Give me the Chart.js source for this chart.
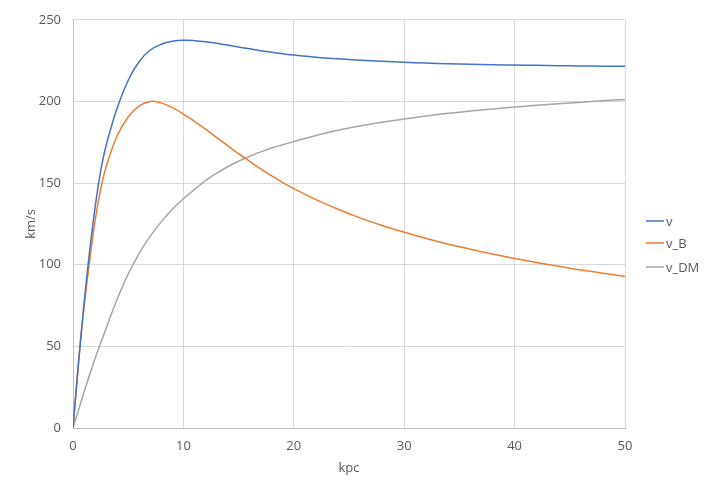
<!DOCTYPE html>
<html>
<head>
<meta charset="utf-8">
<script src="https://cdn.jsdelivr.net/npm/chart.js@4.4.1/dist/chart.umd.min.js"></script>
<style>
  html, body { margin: 0; padding: 0; background: #ffffff; }
  #wrap { width: 727px; height: 487px; }
</style>
</head>
<body>
<div id="wrap"><canvas id="chart"></canvas></div>
<script>
// radius in kpc
const radius = [0, 0.5, 1, 1.5, 2, 2.5, 3, 4, 5, 6, 7, 8, 9, 10, 11, 12, 13, 14, 15, 16, 17, 18, 19, 20,
    22, 24, 26, 28, 30, 32, 34, 36, 38, 40, 42, 44, 46, 48, 50];
// rotation speeds, km/s
const vTotal = [0, 40, 76, 108, 135, 157, 173, 196, 213, 224.5, 231.5, 235, 236.8, 237.4, 237.2, 236.6, 235.6, 234.5, 233.3, 232.2, 231.1, 230.1, 229.2, 228.4,
    227.1, 226.1, 225.3, 224.6, 224, 223.5, 223.1, 222.8, 222.5, 222.3, 222.1, 221.9, 221.7, 221.6, 221.5];
const vBaryon = [0, 40, 74, 102, 127, 146, 160, 179, 190.5, 197.3, 200, 199, 196.2, 192.3, 187.8, 183, 178, 173, 168, 163.3, 158.7, 154.4, 150.3, 146.6,
    139.9, 134, 128.7, 124, 119.9, 116.1, 112.6, 109.5, 106.5, 103.8, 101.3, 99, 96.8, 94.8, 92.8];
const vDark = [0, 11, 22, 32.5, 42.5, 52, 61, 78.8, 94.3, 107, 117.5, 126.4, 134, 140.4, 146, 151.5, 156, 160, 163.4, 166.4, 169.1, 171.5, 173.5, 175.4,
    179.2, 182.4, 185, 187.3, 189.3, 191.1, 192.7, 194.1, 195.4, 196.6, 197.6, 198.6, 199.5, 200.4, 201.2];

const seriesNames = ['v', 'v_B', 'v_DM'];
const seriesColors = ['#4472C4', '#ED7D31', '#A5A5A5'];

const textColor = '#595959';
const fontFamily = "'Open Sans', 'Liberation Sans', sans-serif";

function toPoints(values) {
    return radius.map((r, i) => ({ x: r, y: values[i] }));
}

// simple legend at the right, like the spreadsheet one
const sideLegend = {
    id: 'sideLegend',
    afterDraw(chart) {
        const ctx = chart.ctx;
        ctx.save();
        ctx.font = '13px ' + fontFamily;
        ctx.textBaseline = 'middle';
        ctx.textAlign = 'left';
        const ys = [221, 243, 267];
        chart.data.datasets.forEach((ds, i) => {
            ctx.strokeStyle = ds.borderColor;
            ctx.lineWidth = 1.5;
            ctx.beginPath();
            ctx.moveTo(646, ys[i]);
            ctx.lineTo(664, ys[i]);
            ctx.stroke();
            ctx.fillStyle = textColor;
            ctx.fillText(ds.label, 666, ys[i] + 1);
        });
        ctx.restore();
    }
};

const datasets = [vTotal, vBaryon, vDark].map((values, i) => ({
    label: seriesNames[i],
    data: toPoints(values),
    borderColor: seriesColors[i],
    backgroundColor: seriesColors[i],
    borderWidth: 1.5,
    pointRadius: 0,
    tension: 0.4,
    fill: false
}));

new Chart(document.getElementById('chart').getContext('2d'), {
    type: 'line',
    data: { datasets: datasets },
    options: {
        responsive: true,
        maintainAspectRatio: false,
        animation: false,
        layout: { padding: { top: 14, right: 102, bottom: 0, left: 0 } },
        plugins: {
            legend: { display: false },
            tooltip: { enabled: false }
        },
        scales: {
            x: {
                type: 'linear',
                min: 0,
                max: 50,
                ticks: { stepSize: 10, color: textColor, font: { family: fontFamily, size: 13 }, padding: 10, maxRotation: 0 },
                grid: { color: '#d9d9d9', drawTicks: false },
                border: { color: '#bfbfbf', width: 1 },
                title: { display: true, text: 'kpc', color: textColor, font: { family: fontFamily, size: 13 }, padding: { top: 0, bottom: 11 } },
                afterFit(scale) { scale.height = 59; }
            },
            y: {
                min: 0,
                max: 250,
                ticks: { stepSize: 50, color: textColor, font: { family: fontFamily, size: 13 }, padding: 12 },
                grid: { color: '#d9d9d9', drawTicks: false },
                border: { color: '#bfbfbf', width: 1 },
                title: { display: true, text: 'km/s', color: textColor, font: { family: fontFamily, size: 13 }, padding: { top: 23, bottom: 0 } },
                afterFit(scale) { scale.width = 73; }
            }
        }
    },
    plugins: [sideLegend]
});
</script>
</body>
</html>
